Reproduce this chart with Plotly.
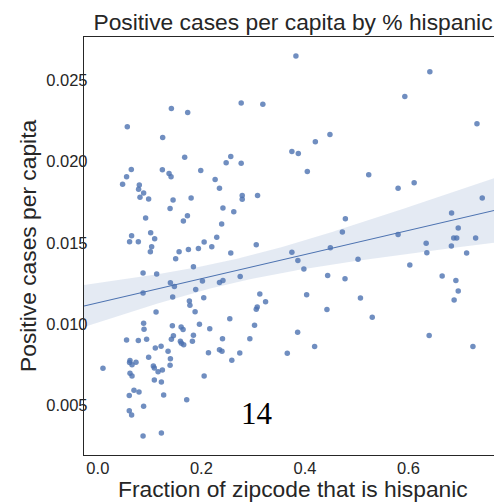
import numpy as np
import plotly.graph_objects as go

# Fraction of each zipcode's population that is hispanic
frac_hispanic = [
    0.142, 0.1735, 0.0569, 0.1252, 0.1677, 0.0646, 0.1246, 0.1375, 0.1414, 0.1987,
    0.0555, 0.2265, 0.0478, 0.0801, 0.0787, 0.2349, 0.0884, 0.0814, 0.0981, 0.1453,
    0.1801, 0.1395, 0.2416, 0.0923, 0.1730, 0.1652, 0.2391, 0.0652, 0.1020, 0.1097,
    0.0613, 0.0782, 0.1039, 0.2296, 0.2053, 0.2200, 0.1749, 0.1942, 0.3825, 0.2768,
    0.3186, 0.4482, 0.4200, 0.3747, 0.3871, 0.2567, 0.2478, 0.2768, 0.4045, 0.2788,
    0.2788, 0.3084, 0.2625, 0.4780, 0.4722, 0.3059, 0.4490, 0.6411, 0.5928, 0.7321,
    0.5231, 0.5798, 0.6108, 0.7423, 0.6831, 0.6959, 0.5798, 0.6872, 0.6930, 0.7295,
    0.6340, 0.6827, 0.1014, 0.1569, 0.1503, 0.1846, 0.0873, 0.1136, 0.1401, 0.1478,
    0.2020, 0.2349, 0.2416, 0.1890, 0.0873, 0.1445, 0.2045, 0.1768, 0.1778, 0.1878,
    0.1124, 0.0884, 0.0892, 0.1439, 0.1608, 0.1646, 0.1962, 0.2161, 0.0555, 0.0782,
    0.0942, 0.1459, 0.1420, 0.1846, 0.1826, 0.1594, 0.1613, 0.1658, 0.2407, 0.1221,
    0.1110, 0.1356, 0.2136, 0.2349, 0.2397, 0.0981, 0.1401, 0.0621, 0.0613, 0.0660,
    0.0737, 0.1395, 0.0099, 0.1072, 0.1091, 0.1163, 0.1246, 0.0621, 0.0660, 0.2053,
    0.1091, 0.1227, 0.0698, 0.0795, 0.0607, 0.1271, 0.1716, 0.0884, 0.0607, 0.0652,
    0.0873, 0.1227, 0.2567, 0.3747, 0.3863, 0.3979, 0.5024, 0.2749, 0.4438, 0.4773,
    0.3128, 0.4032, 0.5071, 0.3239, 0.3078, 0.3059, 0.4424, 0.2548, 0.3026, 0.3858,
    0.2935, 0.4186, 0.2741, 0.3658, 0.2587, 0.6353, 0.7121, 0.6024, 0.6649, 0.6914,
    0.6959, 0.6880, 0.5299, 0.6398, 0.7243,
]

# Positive cases per capita in the same zipcodes
cases_per_capita = [
    0.02325, 0.02300, 0.02212, 0.02146, 0.02025, 0.01950, 0.01948, 0.01925, 0.01905, 0.01943,
    0.01906, 0.01888, 0.01859, 0.01855, 0.01828, 0.01834, 0.01806, 0.01779, 0.01769, 0.01763,
    0.01775, 0.01711, 0.01714, 0.01652, 0.01666, 0.01634, 0.01615, 0.01543, 0.01562, 0.01525,
    0.01506, 0.01506, 0.01476, 0.01533, 0.01505, 0.01476, 0.01459, 0.01465, 0.02647, 0.02358,
    0.02351, 0.02165, 0.02120, 0.02060, 0.02048, 0.02030, 0.01991, 0.01988, 0.01937, 0.01790,
    0.01767, 0.01790, 0.01691, 0.01648, 0.01566, 0.01488, 0.01470, 0.02550, 0.02399, 0.02231,
    0.01917, 0.01834, 0.01868, 0.01775, 0.01683, 0.01591, 0.01550, 0.01529, 0.01529, 0.01529,
    0.01497, 0.01480, 0.01445, 0.01445, 0.01402, 0.01353, 0.01314, 0.01308, 0.01254, 0.01231,
    0.01265, 0.01256, 0.01268, 0.01213, 0.01191, 0.01166, 0.01162, 0.01142, 0.01116, 0.01076,
    0.01074, 0.01006, 0.00969, 0.00990, 0.00982, 0.00967, 0.01000, 0.00971, 0.00902, 0.00899,
    0.00908, 0.00928, 0.00908, 0.00932, 0.00895, 0.00895, 0.00883, 0.00873, 0.00911, 0.00865,
    0.00854, 0.00834, 0.00825, 0.00842, 0.00834, 0.00797, 0.00788, 0.00776, 0.00764, 0.00751,
    0.00766, 0.00748, 0.00729, 0.00743, 0.00731, 0.00708, 0.00719, 0.00698, 0.00682, 0.00682,
    0.00657, 0.00645, 0.00594, 0.00583, 0.00561, 0.00565, 0.00536, 0.00495, 0.00468, 0.00442,
    0.00313, 0.00331, 0.01437, 0.01441, 0.01391, 0.01338, 0.01398, 0.01293, 0.01299, 0.01279,
    0.01185, 0.01180, 0.01160, 0.01137, 0.01105, 0.01092, 0.01090, 0.01033, 0.00994, 0.00951,
    0.00910, 0.00862, 0.00823, 0.00822, 0.00778, 0.01439, 0.01437, 0.01364, 0.01295, 0.01268,
    0.01203, 0.01148, 0.01042, 0.00931, 0.00863,
]

x_ticks = [0.0, 0.2, 0.4, 0.6]
x_tick_labels = ["0.0", "0.2", "0.4", "0.6"]
y_ticks = [0.005, 0.010, 0.015, 0.020, 0.025]
y_tick_labels = ["0.005", "0.010", "0.015", "0.020", "0.025"]

x = np.array(frac_hispanic)
y = np.array(cases_per_capita)

# Axis limits: data range padded by 5% on each side
xpad = 0.05 * (x.max() - x.min())
ypad = 0.05 * (y.max() - y.min())
x_lo = x.min() - xpad
x_hi = 0.765
y_lo, y_hi = y.min() - ypad, y.max() + ypad

# Ordinary least squares fit with a 95% confidence band
n = len(x)
slope, intercept = np.polyfit(x, y, 1)
resid = y - (slope * x + intercept)
s = np.sqrt(np.sum(resid ** 2) / (n - 2))
xm = x.mean()
sxx = np.sum((x - xm) ** 2)
t95 = 1.974
grid = np.linspace(x_lo, x.max() + xpad, 120)
fit = slope * grid + intercept
half = t95 * s * np.sqrt(1.0 / n + (grid - xm) ** 2 / sxx)

blue = "#4c72b0"
ink = "#262626"

fig = go.Figure()
fig.add_trace(go.Scatter(
    x=grid, y=fit - half, mode="lines", line=dict(width=0),
    hoverinfo="skip", showlegend=False,
))
fig.add_trace(go.Scatter(
    x=grid, y=fit + half, mode="lines", line=dict(width=0),
    fill="tonexty", fillcolor="rgba(76,114,176,0.15)",
    hoverinfo="skip", showlegend=False,
))
fig.add_trace(go.Scatter(
    x=x, y=y, mode="markers",
    marker=dict(size=5.5, color=blue, opacity=0.8, line=dict(width=0)),
    showlegend=False,
))
fig.add_trace(go.Scatter(
    x=grid, y=fit, mode="lines", line=dict(color=blue, width=1.1),
    hoverinfo="skip", showlegend=False,
))

font_sans = "Liberation Sans, Arial, sans-serif"

fig.update_layout(
    width=494, height=502,
    margin=dict(l=84, r=0, t=37, b=47),
    paper_bgcolor="white", plot_bgcolor="white",
    font=dict(family=font_sans, color=ink),
    title=dict(
        text="Positive cases per capita by % hispanic",
        x=293 / 494, xanchor="center", xref="container",
        y=1 - 22 / 502, yanchor="middle", yref="container",
        font=dict(size=22.8, color=ink, family=font_sans),
    ),
    xaxis=dict(
        range=[x_lo, x_hi], tickvals=x_ticks, ticktext=x_tick_labels,
        showgrid=False, zeroline=False, showline=True, mirror=True,
        linecolor=ink, linewidth=1.3,
        ticks="", ticklabelstandoff=-2,
        tickfont=dict(size=16.5, color=ink),
    ),
    yaxis=dict(
        range=[y_lo, y_hi], tickvals=y_ticks, ticktext=y_tick_labels,
        showgrid=False, zeroline=False, showline=True, mirror=False,
        linecolor=ink, linewidth=1.3,
        ticks="", ticklabelstandoff=-8,
        tickfont=dict(size=16.5, color=ink),
    ),
    annotations=[
        dict(text="Fraction of zipcode that is hispanic", xref="paper", yref="paper",
             x=(293 - 84) / 410, y=-(489 - 455) / 418, xanchor="center", yanchor="middle",
             showarrow=False, font=dict(size=22.8, color=ink, family=font_sans)),
        dict(text="Positive cases per capita", xref="paper", yref="paper",
             x=(28 - 84) / 410, y=0.5, xanchor="center", yanchor="middle", textangle=-90,
             showarrow=False, font=dict(size=22.8, color=ink, family=font_sans)),
        dict(text="14", xref="paper", yref="paper",
             x=(257 - 84) / 410, y=(455 - 413) / 418, xanchor="center", yanchor="middle",
             showarrow=False, font=dict(size=31, color="black",
                                        family="Liberation Serif, Times New Roman, serif")),
    ],
)

fig.write_html("out.html")
